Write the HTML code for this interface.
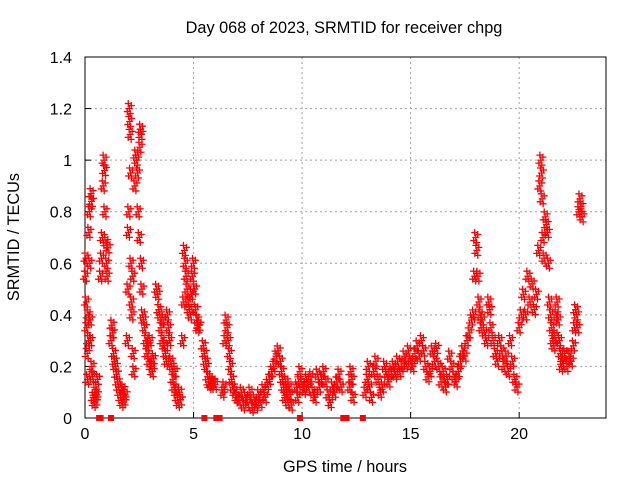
<!DOCTYPE html>
<html><head><meta charset="utf-8"><style>
body{margin:0;background:#fff}
svg{display:block;font-family:"Liberation Sans",sans-serif}
</style></head><body>
<svg id="chart" width="640" height="480" viewBox="0 0 640 480">
<rect width="640" height="480" fill="#fff"/>
<g id="grid"></g>
<g id="axes"></g>
<g id="marks"></g>
<text x="344" y="33" font-size="16.3" text-anchor="middle">Day 068 of 2023, SRMTID for receiver chpg</text>
<text x="345" y="472" font-size="16.3" text-anchor="middle">GPS time / hours</text>
<text x="0" y="0" font-size="16.3" text-anchor="middle" transform="translate(19,237) rotate(-90)">SRMTID / TECUs</text>
</svg>
<script>
const xTicks=[0,5,10,15,20];
const yTicks=[0,0.2,0.4,0.6,0.8,1,1.2,1.4];
const yTickLabels=["0","0.2","0.4","0.6","0.8","1","1.2","1.4"];
const times=[0.02,0.04,0.06,0.08,0.1,0.12,0.14,0.16,0.18,0.2,0.22,0.24,0.26,0.28,0.3,0.32,0.34,0.38,0.42,0.46,0.5,0.54,0.58,
0.72,0.76,0.8,0.84,0.88,0.9,0.92,0.96,1.0,1.02,1.06,
1.2,1.24,1.28,1.32,1.36,1.4,1.45,1.5,1.55,1.6,1.65,1.7,1.75,1.8,1.85,
1.95,1.98,2.0,2.02,2.04,2.06,2.08,2.1,2.12,2.14,2.16,2.2,2.22,2.25,2.3,2.34,2.38,2.42,2.45,2.5,2.53,2.56,2.58,2.6,2.62,2.65,
2.7,2.75,2.8,2.85,2.9,2.95,3.0,3.05,3.1,3.15,
3.3,3.35,3.4,3.45,3.5,3.55,3.6,3.65,3.7,3.75,3.8,3.85,3.9,3.95,4.0,4.05,4.1,4.15,4.2,4.25,4.3,4.35,4.4,
4.5,4.55,4.58,4.62,4.66,4.7,4.75,4.8,4.85,4.9,4.95,5.0,5.05,5.1,5.15,5.2,5.25,
5.45,5.5,5.55,5.6,5.65,5.7,5.75,5.8,5.85,5.9,6.0,
6.35,6.4,6.45,6.5,6.55,6.6,6.65,6.7,6.75,6.8,6.9,7.0,7.1,7.2,7.3,7.4,7.5,7.6,7.7,7.8,7.9,8.0,8.1,8.2,8.3,8.4,8.5,8.6,8.7,8.8,8.9,9.0,9.05,9.1,9.15,9.2,9.25,9.3,9.35,9.4,9.45,9.5,
9.75,9.8,9.85,9.9,10.0,10.1,10.2,10.3,10.4,10.5,10.6,10.7,10.8,10.9,11.0,11.1,11.2,11.3,11.4,11.5,11.6,11.7,11.8,
12.2,12.25,12.3,12.35,
12.9,13.0,13.05,13.1,13.2,13.3,13.4,13.5,13.6,13.7,13.8,13.9,14.0,14.1,14.2,14.3,14.4,14.5,14.6,14.7,14.8,14.9,15.0,15.1,15.2,15.3,15.4,15.5,15.6,15.7,15.8,15.9,16.0,16.1,16.2,16.3,16.4,16.5,16.6,16.7,16.8,16.9,17.0,17.1,17.2,17.3,17.4,17.5,17.6,17.7,17.8,17.9,17.95,18.0,18.05,18.1,18.15,18.2,18.25,18.3,18.4,18.5,18.6,18.65,18.7,18.8,18.9,19.0,19.1,19.2,19.3,19.4,19.5,19.6,19.7,19.8,19.9,
20.0,20.1,20.2,20.3,20.4,20.5,20.6,20.7,20.8,20.9,20.95,21.0,21.03,21.06,21.1,21.15,21.2,21.25,21.3,21.35,21.4,21.45,21.5,21.55,21.6,21.65,21.7,21.75,21.8,21.85,21.9,21.95,22.0,22.1,22.2,22.3,22.4,22.5,22.55,22.6,22.65,22.7,22.75,22.8,22.85,22.9];
const values=[0.55,0.62,0.45,0.35,0.25,0.15,0.4,0.3,0.72,0.8,0.6,0.38,0.3,0.87,0.84,0.2,0.16,0.08,0.06,0.1,0.07,0.09,0.15,
0.55,0.62,0.7,0.9,1.0,0.96,0.8,0.68,0.6,0.55,0.66,
0.3,0.36,0.33,0.25,0.22,0.2,0.17,0.14,0.12,0.1,0.08,0.06,0.11,0.07,0.09,
0.3,0.5,0.72,0.8,1.2,1.15,1.1,0.95,0.6,0.45,0.4,0.55,0.25,0.18,0.9,1.02,1.0,0.95,0.8,0.7,1.05,1.12,1.1,0.6,0.5,0.4,
0.38,0.35,0.3,0.25,0.28,0.22,0.3,0.2,0.18,0.23,
0.5,0.48,0.42,0.4,0.35,0.3,0.38,0.28,0.25,0.22,0.4,0.35,0.3,0.22,0.2,0.15,0.12,0.18,0.1,0.08,0.06,0.1,0.07,
0.3,0.45,0.65,0.6,0.55,0.5,0.45,0.42,0.4,0.48,0.55,0.6,0.5,0.42,0.38,0.35,0.36,
0.28,0.25,0.22,0.2,0.16,0.14,0.13,0.14,0.13,0.14,0.13,
0.1,0.12,0.3,0.38,0.35,0.3,0.25,0.2,0.15,0.12,0.1,0.08,0.07,0.1,0.05,0.08,0.06,0.1,0.04,0.07,0.05,0.09,0.06,0.11,0.08,0.13,0.15,0.18,0.2,0.24,0.26,0.22,0.18,0.15,0.12,0.08,0.14,0.1,0.06,0.12,0.09,0.05,
0.12,0.08,0.14,0.18,0.13,0.11,0.15,0.12,0.16,0.1,0.08,0.17,0.12,0.15,0.18,0.14,0.09,0.06,0.12,0.1,0.14,0.17,0.12,
0.12,0.18,0.15,0.08,
0.1,0.15,0.2,0.12,0.08,0.18,0.22,0.15,0.1,0.12,0.2,0.17,0.14,0.18,0.2,0.17,0.22,0.18,0.2,0.24,0.21,0.26,0.22,0.2,0.25,0.28,0.24,0.3,0.26,0.2,0.16,0.18,0.26,0.22,0.27,0.2,0.14,0.18,0.12,0.15,0.24,0.2,0.16,0.14,0.18,0.22,0.26,0.24,0.3,0.33,0.38,0.4,0.55,0.7,0.65,0.55,0.45,0.4,0.35,0.38,0.33,0.3,0.45,0.42,0.35,0.3,0.25,0.22,0.3,0.26,0.2,0.24,0.18,0.3,0.22,0.15,0.12,
0.35,0.4,0.48,0.4,0.55,0.45,0.52,0.42,0.48,0.65,0.9,1.0,0.95,0.85,0.7,0.62,0.78,0.75,0.72,0.6,0.45,0.4,0.35,0.3,0.28,0.32,0.4,0.45,0.38,0.3,0.25,0.2,0.22,0.25,0.2,0.24,0.22,0.28,0.35,0.42,0.4,0.35,0.8,0.85,0.82,0.78];
const gapTimes=[0.65,0.72,1.2,5.5,6.05,6.2,9.9,11.9,12.05,12.8];

const X0=85,X1=606,Y0=418,Y1=57,XMAX=24,YMAX=1.4;
const sx=t=>X0+(X1-X0)*t/XMAX;
const sy=v=>Y0-(Y0-Y1)*v/YMAX;
const NS="http://www.w3.org/2000/svg";
function mk(tag,attrs,parent){const e=document.createElementNS(NS,tag);for(const k in attrs)e.setAttribute(k,attrs[k]);parent.appendChild(e);return e;}
const grid=document.getElementById('grid'),axes=document.getElementById('axes'),marks=document.getElementById('marks');
xTicks.forEach(t=>{
  if(t>0){const g=mk('line',{x1:sx(t),x2:sx(t),y1:Y1,y2:Y0,stroke:'#a0a0a0','stroke-dasharray':'2,3'},grid);
  
  }
  mk('line',{x1:sx(t),x2:sx(t),y1:Y0,y2:Y0-6,stroke:'#000'},axes);
  const l=mk('text',{x:sx(t),y:Y0+21,'font-size':16,'text-anchor':'middle'},axes);l.textContent=t;
  
  
});
yTicks.forEach((v,i)=>{
  if(v>0&&v<YMAX){const g=mk('line',{x1:X0,x2:X1,y1:sy(v),y2:sy(v),stroke:'#a0a0a0','stroke-dasharray':'2,3'},grid);
  
  }
  mk('line',{x1:X0,x2:X0+6,y1:sy(v),y2:sy(v),stroke:'#000'},axes);
  const l=mk('text',{x:X0-13,y:sy(v)+6,'font-size':16,'text-anchor':'end'},axes);l.textContent=yTickLabels[i];
  
  
});
const fr=mk('rect',{x:X0,y:Y1,width:X1-X0,height:Y0-Y1,fill:'none',stroke:'#000'},axes);


times.forEach((t,i)=>{
  const x=sx(t),y=sy(values[i]);
  let d='';
  [[0,0],[-2,3],[2,-3],[-1,-5],[1,5]].forEach(o=>{d+=`M${x+o[0]-3.5},${y+o[1]}h7M${x+o[0]},${y+o[1]-3.5}v7`;});
  const p=mk('path',{d:d,stroke:'#f00','stroke-width':1.3,fill:'none'},marks);
  
  
});
gapTimes.forEach(t=>{
  const r=mk('rect',{x:sx(t)-3,y:Y0-3,width:6,height:6,fill:'#f00'},marks);
  
  
});
</script>
</body></html>
